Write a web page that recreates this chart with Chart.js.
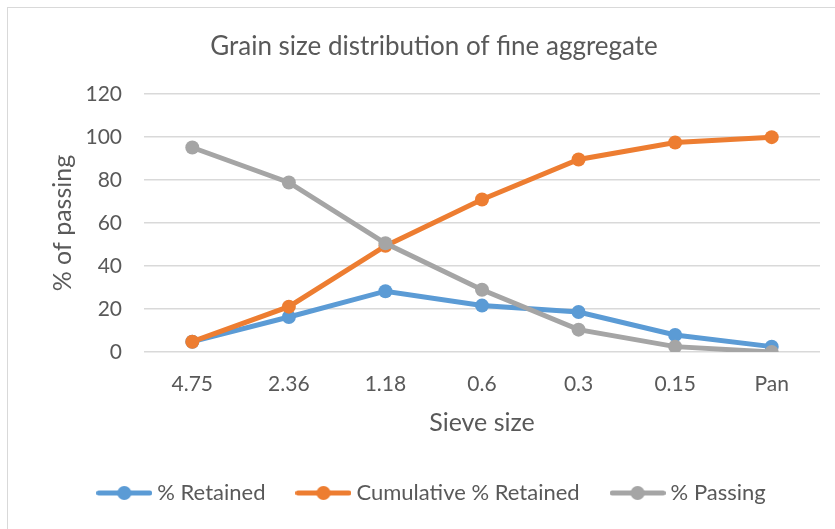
<!DOCTYPE html>
<html>
<head>
<meta charset="utf-8">
<script src="https://cdn.jsdelivr.net/npm/chart.js@4/dist/chart.umd.min.js"></script>
<style>
  html, body { margin: 0; padding: 0; background: #ffffff; }
  #wrap { position: relative; width: 835px; height: 529px; overflow: hidden; }
  #frame { position: absolute; left: 7px; top: 7px; width: 900px; height: 600px;
           border-left: 1px solid #d9d9d9; border-top: 1px solid #d9d9d9; }
  canvas { position: absolute; left: 0; top: 0; }
</style>
</head>
<body>
<div id="wrap">
  <div id="frame"></div>
  <canvas id="c" width="835" height="529"></canvas>
</div>
<script>
// Sieve analysis of fine aggregate
const sieveSizes = ['4.75', '2.36', '1.18', '0.6', '0.3', '0.15', 'Pan'];
const retained = [4.8, 16.3, 28.3, 21.6, 18.6, 7.9, 2.5];
const cumulativeRetained = [4.8, 21.1, 49.4, 71.0, 89.6, 97.5, 100];
const passing = [95.2, 78.9, 50.6, 29.0, 10.4, 2.5, 0];
const yTicks = [0, 20, 40, 60, 80, 100, 120];

const BLUE = '#5B9BD5', ORANGE = '#ED7D31', GREY = '#A5A5A5';
const TEXT = '#595959';
const FONT = 'Lato, "Liberation Sans", sans-serif';

// legend marker: a short thick line with a dot in the middle
function marker(color) {
  const c = document.createElement('canvas');
  c.width = 56; c.height = 16;
  const g = c.getContext('2d');
  g.strokeStyle = color; g.lineWidth = 5; g.lineCap = 'round';
  g.beginPath(); g.moveTo(2.5, 8); g.lineTo(53.5, 8); g.stroke();
  g.fillStyle = color;
  g.beginPath(); g.arc(28, 8, 7, 0, Math.PI * 2); g.fill();
  return c;
}

function series(label, data, color, order) {
  return {
    label, data, order,
    borderColor: color, backgroundColor: color,
    borderWidth: 5, pointRadius: 7, pointHoverRadius: 7,
    pointBorderWidth: 0, pointBackgroundColor: color,
    tension: 0, markerImg: marker(color)
  };
}

new Chart(document.getElementById('c'), {
  type: 'line',
  data: {
    labels: sieveSizes,
    datasets: [
      series('% Retained', retained, BLUE, 2),
      series('Cumulative % Retained', cumulativeRetained, ORANGE, 1),
      series('% Passing', passing, GREY, 0)
    ]
  },
  options: {
    responsive: false,
    animation: false,
    layout: { padding: { left: 48, right: 15, top: 0, bottom: 15 } },
    plugins: {
      title: {
        display: true,
        text: 'Grain size distribution of fine aggregate',
        color: TEXT,
        font: { family: FONT, size: 26, weight: 'normal' },
        padding: { top: 31, bottom: 32 }
      },
      legend: {
        position: 'bottom',
        labels: {
          color: TEXT,
          font: { family: FONT, size: 22 },
          usePointStyle: true,
          pointStyleWidth: 44,
          padding: 36,
          generateLabels(chart) {
            const items = Chart.defaults.plugins.legend.labels.generateLabels(chart);
            items.sort((a, b) => a.datasetIndex - b.datasetIndex);
            items.forEach(it => {
              it.pointStyle = chart.data.datasets[it.datasetIndex].markerImg;
            });
            return items;
          }
        }
      },
      tooltip: { enabled: false }
    },
    scales: {
      x: {
        offset: true,
        grid: { display: false, drawTicks: false },
        border: { display: false },
        ticks: { color: TEXT, font: { family: FONT, size: 21 }, padding: 20 },
        title: { display: true, text: 'Sieve size', color: TEXT,
                 font: { family: FONT, size: 25 }, padding: { top: 0, bottom: 8 } },
        afterFit(scale) { scale.height = 94; }
      },
      y: {
        min: 0, max: 120,
        afterBuildTicks(scale) { scale.ticks = yTicks.map(v => ({ value: v })); },
        grid: { color: '#d9d9d9', lineWidth: 1.5, drawTicks: false },
        border: { display: false },
        ticks: { color: TEXT, font: { family: FONT, size: 21 }, padding: 22 },
        title: { display: true, text: '% of passing', color: TEXT,
                 font: { family: FONT, size: 25 }, padding: { top: 0, bottom: 0 } },
        afterFit(scale) { scale.width = 96; }
      }
    }
  }
});
</script>
</body>
</html>
